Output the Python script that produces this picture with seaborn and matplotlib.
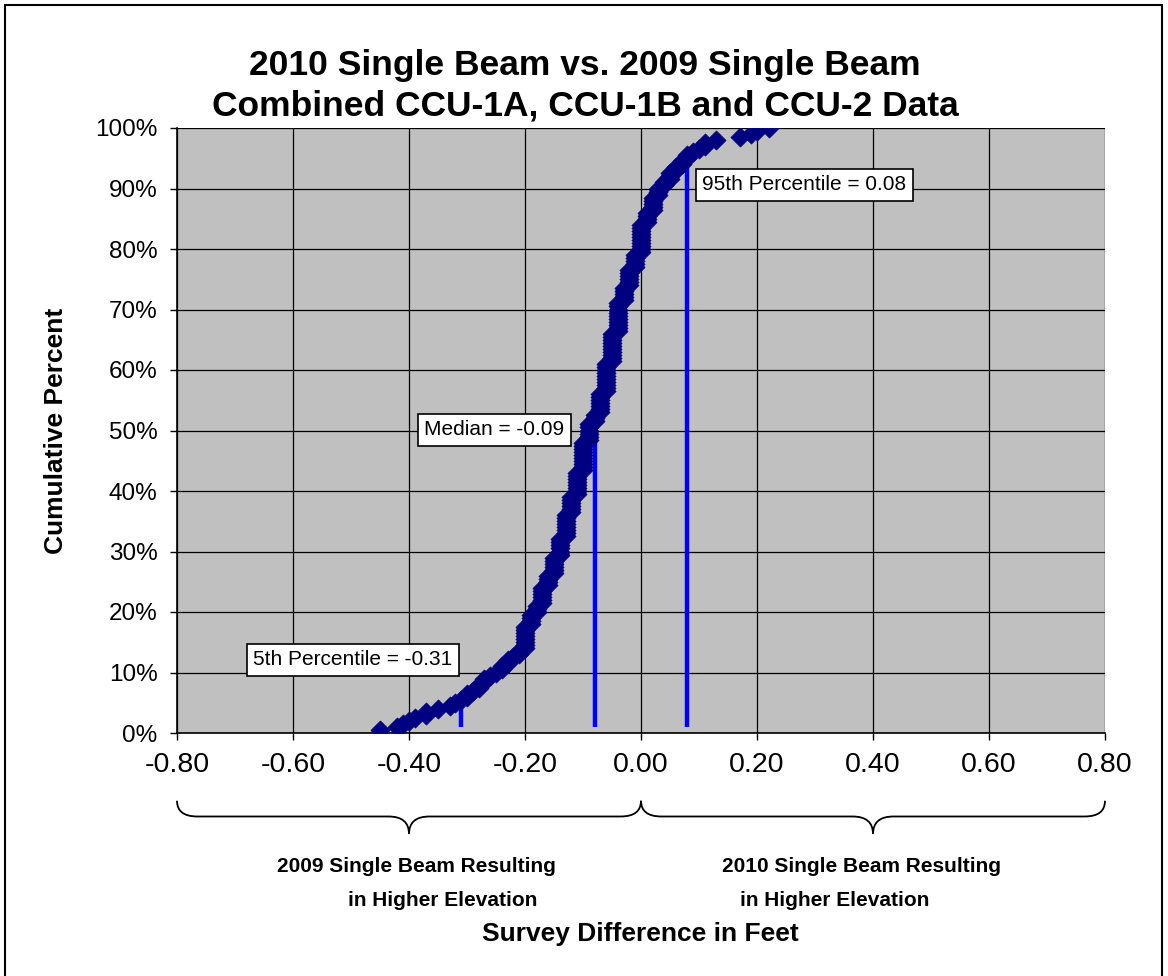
import numpy as np
import pandas as pd
import matplotlib
matplotlib.use("Agg")
import matplotlib.pyplot as plt
from matplotlib.path import Path
from matplotlib.patches import PathPatch, Rectangle
from matplotlib.transforms import blended_transform_factory
import seaborn as sns

# ---------------- data ----------------
diff_values = [-0.45, -0.42, -0.41, -0.40, -0.39, -0.37, -0.35, -0.33, -0.32, -0.31,
               -0.30, -0.29, -0.28, -0.27, -0.26, -0.25, -0.24, -0.23, -0.22, -0.21,
               -0.20, -0.19, -0.18, -0.17, -0.16, -0.15, -0.14, -0.13, -0.12, -0.11,
               -0.10, -0.09, -0.08, -0.07, -0.06, -0.05, -0.04, -0.03, -0.02, -0.01,
               0.00, 0.01, 0.02, 0.03, 0.04, 0.05, 0.06, 0.07, 0.08, 0.09,
               0.10, 0.11, 0.13, 0.17, 0.19, 0.20, 0.22]
diff_counts = [1, 1, 1, 1, 1, 2, 1, 1, 1, 1,
               2, 1, 2, 2, 1, 1, 2, 2, 1, 2,
               8, 4, 3, 6, 4, 6, 6, 8, 6, 8,
               10, 6, 3, 7, 10, 10, 10, 5, 6, 5,
               10, 4, 5, 3, 2, 3, 2, 2, 2, 1,
               1, 2, 1, 1, 1, 1, 1]

percentile_names = ["5th Percentile = -0.31", "Median = -0.09", "95th Percentile = 0.08"]
percentile_x = [-0.31, -0.08, 0.08]
percentile_top = [6.5, 50.0, 93.5]
percentile_bottom = [1.0, 1.0, 1.0]
label_pos_x = [-0.497, -0.253, 0.282]
label_pos_y = [12.1, 50.1, 90.6]

x_ticks = [-0.80, -0.60, -0.40, -0.20, 0.00, 0.20, 0.40, 0.60, 0.80]
y_ticks = [0, 10, 20, 30, 40, 50, 60, 70, 80, 90, 100]

title_text = "2010 Single Beam vs. 2009 Single Beam\nCombined CCU-1A, CCU-1B and CCU-2 Data"
x_label = "Survey Difference in Feet"
y_label = "Cumulative Percent"
brace_ranges = [(-0.80, 0.00), (0.00, 0.80)]
brace_line1 = ["2009 Single Beam Resulting", "2010 Single Beam Resulting"]
brace_line2 = ["in Higher Elevation", "in Higher Elevation"]

# ---------------- build ECDF table ----------------
samples = np.repeat(np.array(diff_values), np.array(diff_counts))
n = len(samples)
df = pd.DataFrame({"diff": samples,
                   "cum_pct": np.arange(1, n + 1) / n * 100.0})

# ---------------- style ----------------
sns.set_theme(style="white")
plt.rcParams["font.family"] = ["Liberation Sans", "DejaVu Sans"]
plt.rcParams["text.color"] = "black"
plt.rcParams["axes.labelcolor"] = "black"
plt.rcParams["xtick.color"] = "black"
plt.rcParams["ytick.color"] = "black"

fig = plt.figure(figsize=(11.68, 9.76), dpi=100)
ax = fig.add_axes([177 / 1168, 1 - 733 / 976, (1105 - 177) / 1168, (733 - 128) / 976])
ax.set_facecolor("#C0C0C0")

ax.set_xlim(-0.80, 0.80)
ax.set_ylim(0, 100)
ax.set_xticks(x_ticks)
ax.set_yticks(y_ticks)
ax.set_xticklabels([f"{v:.2f}" for v in x_ticks], fontsize=20.5)
ax.set_yticklabels([f"{v}%" for v in y_ticks], fontsize=17.5)
ax.grid(True, color="black", linewidth=0.9)
ax.set_axisbelow(True)
ax.tick_params(axis="both", which="major", direction="out", length=5, width=1,
               color="black", labelcolor="black", bottom=True, left=True)
ax.tick_params(axis="x", pad=9)
ax.tick_params(axis="y", pad=9)
for side in ["top", "right"]:
    ax.spines[side].set_visible(False)
for side in ["left", "bottom"]:
    ax.spines[side].set_color("black")
    ax.spines[side].set_linewidth(1.2)

# percentile lines
ax.vlines(percentile_x, percentile_bottom, percentile_top, colors="#0000FF",
          linewidth=3.2, zorder=3)

# data points
sns.scatterplot(data=df, x="diff", y="cum_pct", marker="D", s=95,
                color="#000080", edgecolor="#000080", linewidth=0.5,
                ax=ax, zorder=4, legend=False)

# percentile labels
for name, lx, ly in zip(percentile_names, label_pos_x, label_pos_y):
    ax.text(lx, ly, name, fontsize=15, ha="center", va="center", zorder=6,
            color="black",
            bbox=dict(boxstyle="square,pad=0.3", facecolor="white",
                      edgecolor="black", linewidth=1.2))

ax.set_xlabel("")
ax.set_ylabel(y_label, fontsize=19, fontweight="bold", color="black")
ax.yaxis.set_label_coords(-0.117, 0.5)

# title
fig.text(585 / 1168, 1 - 86 / 976, title_text, ha="center", va="center",
         fontsize=25.5, fontweight="bold", linespacing=1.3, color="black")

# braces under the axis
trans = blended_transform_factory(ax.transData, ax.transAxes)
y_top, y_mid, y_tip = -0.112, -0.138, -0.167
r = 0.035
for (x0, x1) in brace_ranges:
    xm = (x0 + x1) / 2
    verts = [(x0, y_top), (x0, y_mid), (x0 + r, y_mid),
             (xm - r, y_mid),
             (xm, y_mid), (xm, y_tip),
             (xm, y_mid), (xm + r, y_mid),
             (x1 - r, y_mid),
             (x1, y_mid), (x1, y_top)]
    codes = [Path.MOVETO, Path.CURVE3, Path.CURVE3,
             Path.LINETO,
             Path.CURVE3, Path.CURVE3,
             Path.CURVE3, Path.CURVE3,
             Path.LINETO,
             Path.CURVE3, Path.CURVE3]
    patch = PathPatch(Path(verts, codes), transform=trans, fill=False,
                      edgecolor="black", linewidth=1.3, clip_on=False)
    ax.add_patch(patch)

line1_x = [416, 861]
line2_x = [443, 835]
for t1, t2, x1p, x2p in zip(brace_line1, brace_line2, line1_x, line2_x):
    fig.text(x1p / 1168, 1 - 866 / 976, t1, ha="center", va="center",
             fontsize=15, fontweight="bold", color="black")
    fig.text(x2p / 1168, 1 - 900 / 976, t2, ha="center", va="center",
             fontsize=15, fontweight="bold", color="black")

fig.text(640 / 1168, 1 - 934 / 976, x_label, ha="center", va="center",
         fontsize=19, fontweight="bold", color="black")

# figure border
fig.patches.append(Rectangle((5 / 1168, -0.01), (1162 - 5) / 1168, 1 - 5 / 976 + 0.01,
                             transform=fig.transFigure, fill=False,
                             edgecolor="black", linewidth=1.5))

fig.savefig("out.png", dpi=100, facecolor="white")
